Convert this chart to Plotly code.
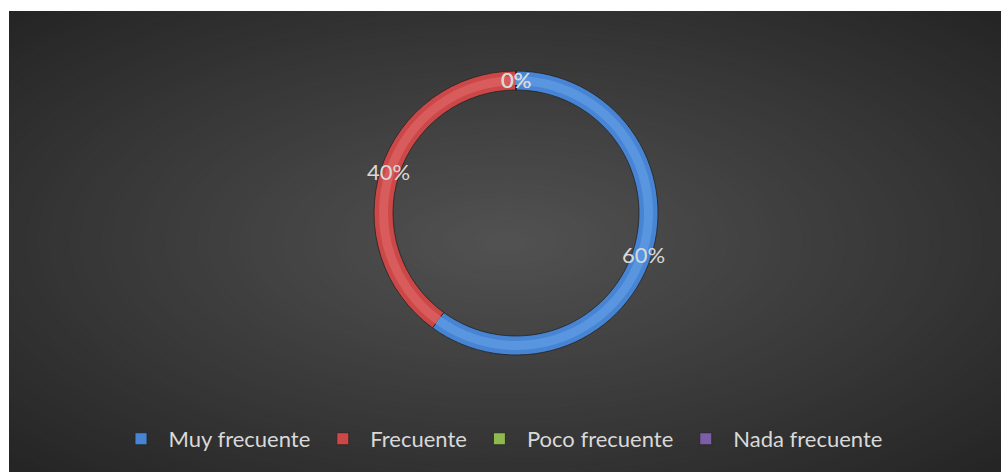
import math
import plotly.graph_objects as go

# ---- data ----
categories = ["Muy frecuente", "Frecuente", "Poco frecuente", "Nada frecuente"]
values = [60, 40, 0, 0]
colors = ["#4784d3", "#cc4848", "#8fb84e", "#7b5ea7"]
highlight_colors = ["#5a96e0", "#d95c5c", "#9fc65e", "#8b6eb7"]

W, H = 1001, 472
# donut geometry (pixels)
cx, cy, R = 516, 213, 142
ring = 19
label_r = 134

dom = dict(x=[(cx - R) / W, (cx + R) / W],
           y=[(H - cy - R) / H, (H - cy + R) / H])

fig = go.Figure()

fig.add_trace(go.Pie(
    labels=categories,
    values=values,
    hole=(R - ring) / R,
    sort=False,
    direction="clockwise",
    rotation=0,
    textinfo="none",
    hoverinfo="label+percent",
    marker=dict(colors=colors, line=dict(color="rgba(35,35,35,0.8)", width=1)),
    domain=dom,
    showlegend=True,
))

# subtle bevel highlight along the middle of the ring (same data)
Rh = R - 5
fig.add_trace(go.Pie(
    labels=categories,
    values=values,
    hole=(R - ring + 5) / Rh,
    sort=False,
    direction="clockwise",
    rotation=0,
    textinfo="none",
    hoverinfo="skip",
    marker=dict(colors=highlight_colors, line=dict(width=0)),
    domain=dict(x=[(cx - Rh) / W, (cx + Rh) / W],
                y=[(H - cy - Rh) / H, (H - cy + Rh) / H]),
    showlegend=False,
))

# ---- background: radial gradient approximated with nested ellipses ----
shapes = []
bx0, by0, bx1, by1 = 9, 11, W, H
bcx, bcy = (bx0 + bx1) / 2, (by0 + by1) / 2
hx, hy = (bx1 - bx0) / 2, (by1 - by0) / 2
N = 70
smax = 1.5
for i in range(N):
    s = smax * (1 - i / N)
    c = max(37, int(round(82 - 32 * s)))
    shapes.append(dict(
        type="circle", xref="paper", yref="paper", layer="below",
        x0=(bcx - hx * s) / W, x1=(bcx + hx * s) / W,
        y0=1 - (bcy + hy * s) / H, y1=1 - (bcy - hy * s) / H,
        fillcolor=f"rgb({c},{c},{c})", line=dict(width=0),
    ))
# white margins outside the chart area
shapes.append(dict(type="rect", xref="paper", yref="paper", layer="below",
                   x0=-0.1, x1=bx0 / W, y0=-0.1, y1=1.1,
                   fillcolor="white", line=dict(width=0)))
shapes.append(dict(type="rect", xref="paper", yref="paper", layer="below",
                   x0=-0.1, x1=1.1, y0=1 - by0 / H, y1=1.1,
                   fillcolor="white", line=dict(width=0)))

# ---- data labels at slice mid-angles ----
total = sum(values)
annotations = []
cum = 0.0
for v in values:
    frac = v / total
    mid = (cum + frac / 2) * 2 * math.pi
    cum += frac
    px = cx + label_r * math.sin(mid)
    py = cy - label_r * math.cos(mid)
    annotations.append(dict(
        x=px / W, y=1 - py / H, xref="paper", yref="paper",
        text=f"{round(frac * 100)}%", showarrow=False,
        xanchor="center", yanchor="middle",
        font=dict(family="Lato", size=22, color="#d9d9d9"),
    ))

fig.update_layout(
    width=W, height=H,
    margin=dict(l=0, r=0, t=0, b=0),
    paper_bgcolor="white",
    plot_bgcolor="white",
    shapes=shapes,
    annotations=annotations,
    legend=dict(
        orientation="h",
        x=0.5, xanchor="center",
        y=0.07, yanchor="middle",
        font=dict(family="Lato", size=22, color="#d9d9d9"),
        bgcolor="rgba(0,0,0,0)",
        itemwidth=45,
        traceorder="normal",
    ),
)

fig.write_html("out.html",
               config={"displayModeBar": False},
               post_script="document.body.style.margin='0';document.body.style.overflow='hidden';")
